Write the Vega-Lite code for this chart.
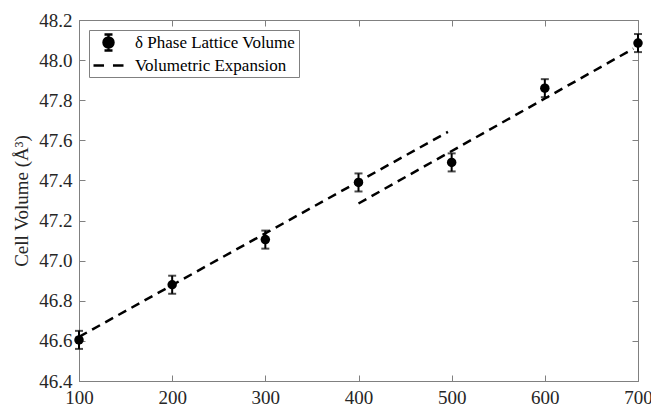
{
  "$schema": "https://vega.github.io/schema/vega-lite/v6.json",
  "autosize": "none",
  "width": 559,
  "height": 361,
  "padding": {"left": 79, "top": 20, "right": 13, "bottom": 27},
  "background": "white",
  "config": {
    "font": "Liberation Serif",
    "view": {"stroke": "#808080", "strokeWidth": 1},
    "axis": {
      "grid": false,
      "domainColor": "#808080",
      "tickColor": "#808080",
      "tickSize": -6,
      "labelFlush": false,
      "labelOverlap": false,
      "labelFont": "Liberation Serif",
      "labelFontSize": 19,
      "labelColor": "#262626",
      "titleFont": "Liberation Serif",
      "titleFontSize": 19,
      "titleFontWeight": "normal",
      "titleColor": "#262626"
    }
  },
  "datasets": {
    "pts": [
      {"T": 100, "V": 46.605, "lo": 46.56, "hi": 46.65, "series": "δ Phase Lattice Volume"},
      {"T": 200, "V": 46.88, "lo": 46.835, "hi": 46.925, "series": "δ Phase Lattice Volume"},
      {"T": 300, "V": 47.105, "lo": 47.06, "hi": 47.15, "series": "δ Phase Lattice Volume"},
      {"T": 400, "V": 47.39, "lo": 47.345, "hi": 47.435, "series": "δ Phase Lattice Volume"},
      {"T": 500, "V": 47.49, "lo": 47.445, "hi": 47.535, "series": "δ Phase Lattice Volume"},
      {"T": 600, "V": 47.86, "lo": 47.815, "hi": 47.905, "series": "δ Phase Lattice Volume"},
      {"T": 700, "V": 48.085, "lo": 48.04, "hi": 48.13, "series": "δ Phase Lattice Volume"}
    ],
    "lines": [
      {"T": 100, "V": 46.62, "seg": "a", "series": "Volumetric Expansion"},
      {"T": 496, "V": 47.642, "seg": "a", "series": "Volumetric Expansion"},
      {"T": 400, "V": 47.285, "seg": "b", "series": "Volumetric Expansion"},
      {"T": 695, "V": 48.057, "seg": "b", "series": "Volumetric Expansion"}
    ]
  },
  "layer": [
    {
      "data": {"name": "lines"},
      "mark": {"type": "line", "color": "black", "strokeWidth": 2.5, "strokeDash": [9, 6]},
      "encoding": {
        "x": {"field": "T", "type": "quantitative", "scale": {"domain": [100, 700], "nice": false, "zero": false},
              "axis": {"orient": "bottom", "values": [100, 200, 300, 400, 500, 600, 700], "title": null, "labelPadding": 13, "format": "d"}},
        "y": {"field": "V", "type": "quantitative", "scale": {"domain": [46.4, 48.2], "nice": false, "zero": false},
              "axis": {"orient": "left", "values": [46.4, 46.6, 46.8, 47.0, 47.2, 47.4, 47.6, 47.8, 48.0, 48.2], "format": ".1f", "title": "Cell Volume (Å³)", "labelPadding": 13, "titlePadding": 7}},
        "detail": {"field": "seg"}
      }
    },
    {
      "data": {"name": "pts"},
      "mark": {"type": "rule", "color": "black", "strokeWidth": 2},
      "encoding": {
        "x": {"field": "T", "type": "quantitative", "axis": null},
        "y": {"field": "lo", "type": "quantitative", "axis": null},
        "y2": {"field": "hi"}
      }
    },
    {
      "data": {"name": "pts"},
      "mark": {"type": "tick", "color": "black", "thickness": 2, "size": 8, "orient": "horizontal"},
      "encoding": {
        "x": {"field": "T", "type": "quantitative", "axis": null},
        "y": {"field": "lo", "type": "quantitative", "axis": null}
      }
    },
    {
      "data": {"name": "pts"},
      "mark": {"type": "tick", "color": "black", "thickness": 2, "size": 8, "orient": "horizontal"},
      "encoding": {
        "x": {"field": "T", "type": "quantitative", "axis": null},
        "y": {"field": "hi", "type": "quantitative", "axis": null}
      }
    },
    {
      "data": {"name": "pts"},
      "mark": {"type": "point", "filled": true, "color": "black", "stroke": "black", "strokeWidth": 2.5, "opacity": 0},
      "encoding": {
        "x": {"field": "T", "type": "quantitative", "axis": null},
        "y": {"field": "V", "type": "quantitative", "axis": null},
        "shape": {
          "field": "series", "type": "nominal",
          "scale": {
            "domain": ["δ Phase Lattice Volume", "Volumetric Expansion"],
            "range": [
              "M-0.625,0A0.625,0.625 0 1,0 0.625,0A0.625,0.625 0 1,0 -0.625,0ZM0,-1V1M-0.5,-1H0.5M-0.5,1H0.5",
              "M-1.875,0H-0.56M0.56,0H1.875"
            ]
          },
          "legend": {
            "title": null,
            "orient": "top-left",
            "offset": 10,
            "padding": 3,
            "rowPadding": 0,
            "strokeColor": "#808080",
            "fillColor": "white",
            "labelFont": "Liberation Serif",
            "labelFontSize": 17,
            "labelColor": "black",
            "labelLimit": 400,
            "symbolSize": 256,
            "symbolOpacity": 1,
            "symbolStrokeWidth": 2.5,
            "symbolOffset": 7,
            "labelOffset": 17
          }
        }
      }
    },
    {
      "data": {"name": "pts"},
      "mark": {"type": "point", "filled": true, "color": "black", "size": 90, "opacity": 1},
      "encoding": {
        "x": {"field": "T", "type": "quantitative", "axis": {"orient": "top", "values": [100, 200, 300, 400, 500, 600, 700], "labels": false, "title": null, "domain": false}},
        "y": {"field": "V", "type": "quantitative", "axis": {"orient": "right", "values": [46.4, 46.6, 46.8, 47.0, 47.2, 47.4, 47.6, 47.8, 48.0, 48.2], "labels": false, "title": null, "domain": false}}
      }
    }
  ],
  "resolve": {"axis": {"x": "independent", "y": "independent"}}
}
